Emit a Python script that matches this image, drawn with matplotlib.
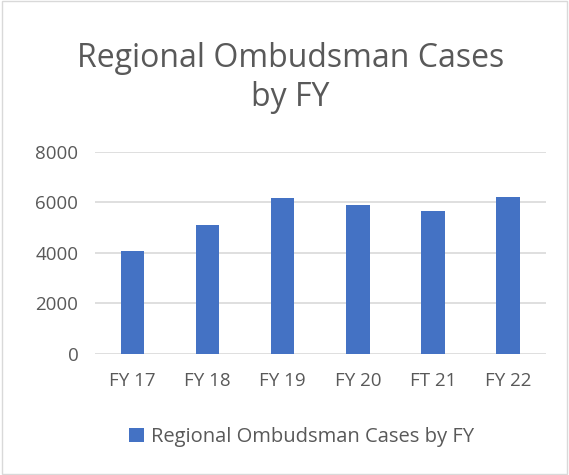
import matplotlib.pyplot as plt
from matplotlib.patches import Rectangle

years = ["FY 17", "FY 18", "FY 19", "FY 20", "FT 21", "FY 22"]
cases = [4066, 5109, 6152, 5875, 5663, 6205]

plt.rcParams["font.family"] = ["Open Sans", "DejaVu Sans"]
txt = "#595959"
bar_color = "#4472C4"

fig = plt.figure(figsize=(5.69, 4.75), dpi=100)
ax = fig.add_axes([0.167, 0.2554, 0.792, 0.4252])

x = range(len(years))
ax.bar(x, cases, width=0.31, color=bar_color, zorder=3,
       label="Regional Ombudsman Cases by FY")

ax.set_ylim(0, 8000)
ax.set_xlim(-0.5, len(years) - 0.5)
ax.set_yticks([0, 2000, 4000, 6000, 8000])
ax.set_xticks(list(x))
ax.set_xticklabels(years)
ax.yaxis.grid(True, color="#D9D9D9", linewidth=1.2, zorder=0)
for s in ax.spines.values():
    s.set_visible(False)
ax.tick_params(length=0, labelsize=13.5, colors=txt, pad=12)
ax.tick_params(axis="x", pad=13)

fig.text(0.51, 0.835, "Regional Ombudsman Cases\nby FY", ha="center", va="center",
         fontsize=23, color=txt, linespacing=1.25)

fig.legend(loc="center", bbox_to_anchor=(0.53, 0.08), frameon=False,
           fontsize=14.5, labelcolor=txt, handlelength=0.7, handleheight=0.7,
           handletextpad=0.35)

fig.patches.append(Rectangle((0.003, 0.003), 0.994, 0.994, transform=fig.transFigure,
                             fill=False, edgecolor="#D9D9D9", linewidth=1))

fig.savefig("out.png", dpi=100)
